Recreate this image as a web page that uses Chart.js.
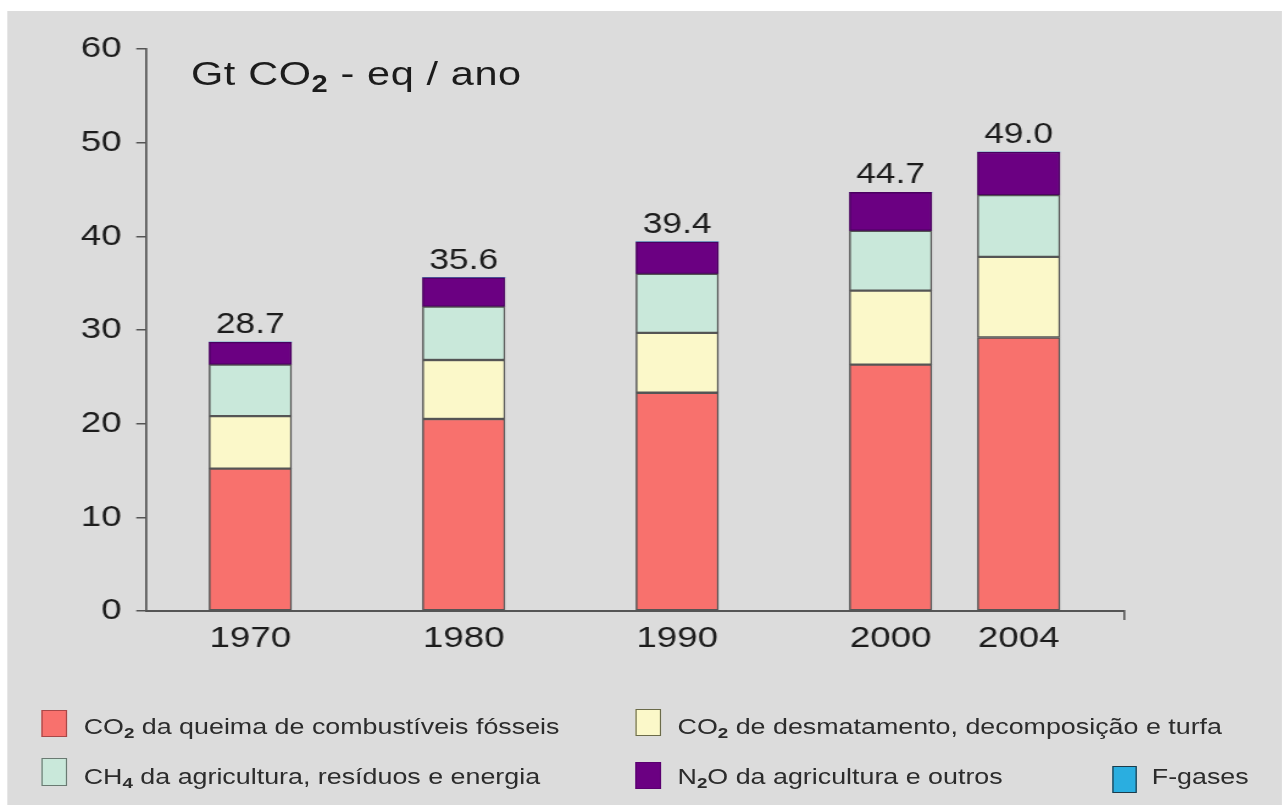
<!DOCTYPE html>
<html>
<head>
<meta charset="utf-8">
<title>Emissões globais de gases de efeito estufa</title>
<script src="https://cdn.jsdelivr.net/npm/chart.js@4.4.0/dist/chart.umd.min.js"></script>
<style>
    html, body { margin: 0; padding: 0; background: #fff; }
    body { width: 1288px; height: 809px; overflow: hidden; position: relative; font-family: "Liberation Sans", Arial, sans-serif; }
    /* the reference is stretched sideways, so draw narrower and scale the whole stage */
    #stage { position: absolute; left: 0; top: 0; width: 1056px; height: 809px; transform-origin: 0 0; transform: scaleX(1.2197); }
    #panel { position: absolute; left: 5.7px; top: 11px; width: 1045px; height: 794px; background: #dcdcdc; }
    #chartBox { position: absolute; left: 0; top: 0; width: 1056px; height: 809px; }
    .title { position: absolute; left: 156.6px; top: 56px; font-size: 34px; line-height: 34px; letter-spacing: 0.5px; color: #1c1c1c; white-space: nowrap; }
    .sub { font-size: 0.7em; vertical-align: -0.28em; font-weight: bold; }
    .lg { position: absolute; font-size: 22px; line-height: 22px; color: #2c2c2c; white-space: nowrap; }
    .sw { position: absolute; box-sizing: border-box; border: 1.5px solid #555; }
</style>
</head>
<body>
<div id="stage">
    <div id="panel"></div>
    <div id="chartBox"><canvas id="emissionsChart"></canvas></div>
    <div class="title">Gt CO<span class="sub">2</span> - eq / ano</div>
    <div id="legendBox"></div>
</div>
<script>
// data (Gt CO2-eq / ano)
const years = ['1970', '1980', '1990', '2000', '2004'];
const fossilCO2 = [15.2, 20.5, 23.3, 26.3, 29.2];
const deforestCO2 = [5.6, 6.3, 6.4, 7.9, 8.6];
const methane = [5.5, 5.7, 6.3, 6.4, 6.6];
const nitrousOxide = [2.4, 3.1, 3.4, 4.1, 4.6];
const fGases = [0, 0, 0, 0, 0];
const totals = [28.7, 35.6, 39.4, 44.7, 49.0];
const yTicks = [0, 10, 20, 30, 40, 50, 60];

const seriesNames = [
    'CO<span class="sub">2</span> da queima de combustíveis fósseis',
    'CO<span class="sub">2</span> de desmatamento, decomposição e turfa',
    'CH<span class="sub">4</span> da agricultura, resíduos e energia',
    'N<span class="sub">2</span>O da agricultura e outros',
    'F-gases'
];

// layout: the years are not evenly spaced on the axis (2000 -> 2004 is shorter)
const slotPos = [0, 5, 10, 15, 18];
const X_MIN = -2.443;
const X_MAX = 20.46;

const fills = ['#f8716d', '#fbf8c9', '#c9e8da', '#6b0082', '#2aaee0'];
const edges = ['#555555', '#555555', '#555555', '#4a0060', '#1d3b4a'];
const swatchEdges = ['#a84848', '#6b6b4a', '#6a7a72', '#5a0070', '#1d3b4a'];

function toPoints(arr) {
    return arr.map((v, i) => ({ x: slotPos[i], y: v }));
}

const seriesData = [fossilCO2, deforestCO2, methane, nitrousOxide, fGases];

const datasets = seriesData.map((arr, k) => ({
    label: seriesNames[k].replace(/<[^>]+>/g, ''),
    data: toPoints(arr),
    backgroundColor: fills[k],
    borderColor: edges[k],
    borderWidth: k === 4 ? 0 : 1.5,
    borderSkipped: false,
    barThickness: 67.6
}));

// totals above each bar
const totalsPlugin = {
    id: 'totals',
    afterDatasetsDraw(chart) {
        const ctx = chart.ctx;
        const xs = chart.scales.x;
        const ys = chart.scales.y;
        ctx.save();
        ctx.font = '29px "Liberation Sans", Arial, sans-serif';
        ctx.fillStyle = '#1c1c1c';
        ctx.textAlign = 'center';
        ctx.textBaseline = 'alphabetic';
        totals.forEach((t, i) => {
            ctx.fillText(t.toFixed(1), xs.getPixelForValue(slotPos[i]), ys.getPixelForValue(t) - 9);
        });
        ctx.restore();
    }
};

new Chart(document.getElementById('emissionsChart').getContext('2d'), {
    type: 'bar',
    data: { datasets: datasets },
    options: {
        responsive: true,
        maintainAspectRatio: false,
        animation: false,
        layout: { padding: { left: 0, right: 134.7, top: 49, bottom: 138 } },
        plugins: {
            legend: { display: false },
            tooltip: { enabled: false }
        },
        scales: {
            x: {
                type: 'linear',
                stacked: true,
                offset: false,
                min: X_MIN,
                max: X_MAX,
                afterBuildTicks: s => {
                    s.ticks = slotPos.map(v => ({ value: v })).concat([{ value: X_MAX }]);
                },
                afterFit: s => { s.height = 60; },
                grid: {
                    offset: false,
                    drawOnChartArea: false,
                    drawTicks: true,
                    tickLength: 9,
                    lineWidth: 1.6,
                    color: c => (c.tick && c.tick.value === X_MAX ? '#555' : 'rgba(0,0,0,0)')
                },
                border: { display: true, color: '#555', width: 2 },
                ticks: {
                    autoSkip: false,
                    maxRotation: 0,
                    padding: 1,
                    color: '#1c1c1c',
                    font: { family: '"Liberation Sans", Arial, sans-serif', size: 30 },
                    callback: v => {
                        const i = slotPos.indexOf(v);
                        return i >= 0 ? years[i] : '';
                    }
                }
            },
            y: {
                stacked: true,
                min: yTicks[0],
                max: yTicks[yTicks.length - 1],
                afterBuildTicks: s => { s.ticks = yTicks.map(v => ({ value: v })); },
                afterFit: s => { s.width = 119.7; },
                grid: {
                    drawOnChartArea: false,
                    drawTicks: true,
                    tickLength: 8,
                    lineWidth: 1.5,
                    color: '#555'
                },
                border: { display: true, color: '#555', width: 1.7 },
                ticks: {
                    padding: 12,
                    color: '#1c1c1c',
                    font: { family: '"Liberation Sans", Arial, sans-serif', size: 30 }
                }
            }
        }
    },
    plugins: [totalsPlugin]
});

// legend (html so the subscripts stay real text)
const legendPos = [
    { sx: 33.6, sy: 710, sw: 21.5, sh: 27, tx: 68.6, ty: 716 },
    { sx: 520.6, sy: 709, sw: 21.5, sh: 27, tx: 555.5, ty: 716 },
    { sx: 33.6, sy: 758, sw: 21.5, sh: 28, tx: 68.6, ty: 766 },
    { sx: 520.6, sy: 762, sw: 21.5, sh: 27, tx: 555.5, ty: 766 },
    { sx: 911.5, sy: 766, sw: 20, sh: 27, tx: 944.3, ty: 766 }
];

let legendHtml = '';
seriesNames.forEach((name, k) => {
    const p = legendPos[k];
    legendHtml += `<div class="sw" style="left:${p.sx}px;top:${p.sy}px;width:${p.sw}px;height:${p.sh}px;background:${fills[k]};border-color:${swatchEdges[k]}"></div>`;
    legendHtml += `<div class="lg" style="left:${p.tx}px;top:${p.ty}px">${name}</div>`;
});
document.getElementById('legendBox').innerHTML = legendHtml;
</script>
</body>
</html>
